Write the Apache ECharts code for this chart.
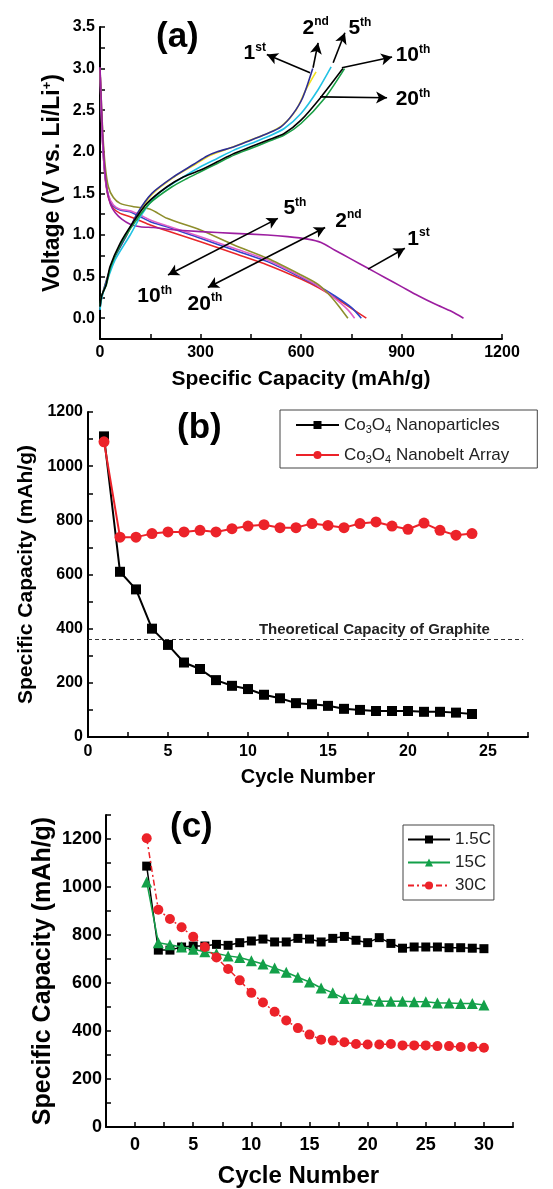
<!DOCTYPE html>
<html><head><meta charset="utf-8">
<script src="https://cdn.jsdelivr.net/npm/echarts@6.0.0/dist/echarts.min.js"></script>
<style>html,body{margin:0;padding:0;background:#fff;}#c{width:553px;height:1189px;}</style>
</head><body><div id="c"></div>
<script>
// ---------- Panel (a): voltage profiles [capacity mAh/g, voltage V] ----------
const dis1st = [[0,3.02],[3,2.7],[8,2.2],[14,1.8],[22,1.52],[32,1.36],[45,1.27],[65,1.19],[90,1.13],[120,1.1],[160,1.09],[200,1.07],[300,1.04],[400,1.02],[500,1.0],[560,0.98],[620,0.95],[660,0.91],[700,0.82],[750,0.71],[800,0.6],[850,0.49],[900,0.38],[950,0.27],[1000,0.17],[1050,0.08],[1085,0.0]];
const dis2nd = [[0,3.0],[3,2.6],[8,2.1],[15,1.7],[25,1.45],[40,1.32],[60,1.26],[90,1.22],[120,1.17],[150,1.12],[200,1.05],[300,0.92],[400,0.78],[500,0.64],[600,0.47],[650,0.37],[700,0.25],[750,0.12],[795,0.0]];
const dis5th = [[0,3.0],[3,2.6],[8,2.1],[15,1.72],[25,1.47],[40,1.35],[60,1.3],[90,1.28],[120,1.22],[150,1.16],[200,1.1],[300,0.96],[400,0.82],[500,0.68],[600,0.49],[650,0.39],[700,0.27],[750,0.13],[780,0.0]];
const dis10th = [[0,3.0],[3,2.6],[8,2.1],[15,1.72],[25,1.48],[40,1.36],[60,1.31],[90,1.29],[120,1.24],[150,1.18],[200,1.11],[300,0.98],[400,0.84],[500,0.7],[600,0.5],[650,0.39],[700,0.24],[740,0.1],[760,0.0]];
const dis20th = [[0,3.0],[3,2.7],[8,2.25],[15,1.85],[25,1.58],[40,1.45],[60,1.38],[100,1.34],[150,1.31],[200,1.2],[300,1.06],[400,0.88],[500,0.72],[600,0.52],[650,0.41],[680,0.3],[710,0.16],[740,0.0]];
const chg1st = [[0,0.12],[5,0.25],[15,0.4],[40,0.7],[80,1.0],[110,1.25],[155,1.5],[220,1.7],[280,1.85],[320,1.95],[350,2.0],[400,2.06],[450,2.14],[500,2.22],[540,2.3],[575,2.45],[605,2.65],[635,3.0]];
const chg2nd = [[0,0.12],[5,0.25],[15,0.4],[40,0.7],[80,1.0],[112,1.25],[158,1.5],[222,1.7],[285,1.85],[325,1.95],[370,2.02],[410,2.08],[455,2.15],[505,2.23],[545,2.32],[585,2.5],[615,2.75],[645,2.96]];
const chg5th = [[0,0.1],[5,0.24],[17,0.4],[45,0.7],[90,1.0],[125,1.25],[175,1.5],[250,1.7],[300,1.82],[350,1.92],[400,2.02],[450,2.1],[500,2.18],[550,2.28],[600,2.46],[650,2.74],[690,3.02]];
const chg10th = [[0,0.14],[5,0.27],[18,0.4],[30,0.62],[60,0.9],[100,1.16],[140,1.38],[200,1.58],[250,1.7],[300,1.78],[350,1.88],[400,1.98],[450,2.06],[500,2.14],[550,2.22],[600,2.38],[660,2.66],[725,3.0]];
const chg20th = [[0,0.14],[5,0.27],[19,0.4],[32,0.62],[63,0.9],[105,1.16],[148,1.38],[215,1.58],[260,1.68],[300,1.76],[350,1.86],[400,1.96],[450,2.04],[500,2.12],[550,2.2],[600,2.34],[670,2.64],[730,3.0]];
// annotation arrows: [x1,y1,x2,y2, headAtStart]
const arrowsA = [[627,2.95,498,3.17,0],[636,3.01,651,3.31,0],[696,3.07,731,3.43,0],[722,3.01,872,3.14,0],[657,2.66,857,2.65,0],[203,0.52,531,1.20,1],[322,0.37,672,1.09,1],[800,0.59,910,0.84,0]];
// annotation labels: [x, y, number, suffix]
const labelsA = [[427,3.18,'1','st'],[603,3.49,'2','nd'],[740,3.48,'5','th'],[881,3.16,'10','th'],[881,2.63,'20','th'],[546,1.32,'5','th'],[701,1.17,'2','nd'],[916,0.95,'1','st'],[110,0.26,'10','th'],[260,0.17,'20','th']];

// ---------- Panel (b) ----------
const cyclesB = [1,2,3,4,5,6,7,8,9,10,11,12,13,14,15,16,17,18,19,20,21,22,23,24];
const nanoparticles = [1110,610,545,400,340,275,251,210,189,177,156,143,125,121,115,104,100,96,96,96,93,93,90,85];
const nanobelt = [1090,738,738,751,757,757,763,757,769,779,784,773,773,788,781,773,788,794,779,767,790,763,745,751];
const graphiteCap = 360;

// ---------- Panel (c) ----------
const cyclesC = [1,2,3,4,5,6,7,8,9,10,11,12,13,14,15,16,17,18,19,20,21,22,23,24,25,26,27,28,29,30];
const rate1_5C = [1087,737,737,750,754,754,761,757,768,775,783,771,771,786,783,771,786,794,778,768,789,765,745,750,750,750,747,747,745,743];
const rate15C = [1021,768,759,750,741,730,723,713,706,693,679,662,645,624,604,579,559,535,535,529,524,524,524,522,522,517,517,515,515,508];
const rate30C = [1203,905,867,832,793,750,706,658,611,559,519,480,444,412,385,364,360,353,346,344,344,346,340,340,340,337,337,333,334,330];

const FF = "'Liberation Sans', Arial, sans-serif";
const RED = '#ec2229', GREEN = '#13a049';

function pair(xs, ys){ return ys.map((v,i)=>[xs[i], v]); }

function axis(gi, min, max, interval, step, dec, name, nameGap, nameSize, margin, labelSize, extra){
  return Object.assign({
    type:'value', gridIndex: gi, min, max, interval,
    name, nameLocation:'middle', nameGap, nameMoveOverlap:false,
    nameTextStyle:{fontFamily:FF, fontWeight:'bold', fontSize:nameSize, color:'#000'},
    axisLine:{show:true, onZero:false, lineStyle:{color:'#000', width:2}},
    axisTick:{show:true, inside:true, length:5, interval:0, lineStyle:{color:'#000', width:1.5}},
    splitLine:{show:false},
    axisLabel:{interval:0, hideOverlap:false, fontFamily:FF, fontWeight:'bold', fontSize:labelSize, color:'#000', margin,
      formatter: v => { const r = v/step; return Math.abs(r-Math.round(r))<1e-6 ? v.toFixed(dec) : ''; }}
  }, extra||{});
}

const lineA = (name, data, color) => ({
  name, type:'line', xAxisIndex:0, yAxisIndex:0, data, showSymbol:false, smooth:0.25,
  lineStyle:{color, width:1.6}, itemStyle:{color}, silent:true, z:2
});

const sup = {fontFamily:FF, fontWeight:'bold', fontSize:12, color:'#000', verticalAlign:'top', lineHeight:12};
const num = {fontFamily:FF, fontWeight:'bold', fontSize:21, color:'#000', lineHeight:24};
const titleStyle = {fontFamily:FF, fontWeight:'bold', fontSize:35, color:'#000'};

const option = {
  animation:false,
  backgroundColor:'#fff',
  title:[
    {text:'(a)', left:156, top:20, padding:0, textStyle:titleStyle},
    {text:'(b)', left:177, top:411, padding:0, textStyle:titleStyle},
    {text:'(c)', left:170, top:810, padding:0, textStyle:titleStyle}
  ],
  grid:[
    {left:100, right:51, top:27, height:312},
    {left:88, right:25, top:412, height:325},
    {left:106, right:40, top:815, height:317}
  ],
  legend:[
    {data:['Co3O4 Nanoparticles','Co3O4 Nanobelt Array'], orient:'vertical', left:280, top:410,
     padding:[5,28,3,15], itemGap:10, itemWidth:43, itemHeight:10, borderColor:'#444', borderWidth:1,
     textStyle:{fontFamily:FF, fontSize:17, color:'#222', lineHeight:20,
       rich:{sub:{fontFamily:FF, fontSize:11, color:'#222', verticalAlign:'bottom', lineHeight:11}}},
     formatter: n => n.replace('Co3O4','Co{sub|3}O{sub|4}')},
    {data:['1.5C','15C','30C'], orient:'vertical', left:403, top:825,
     padding:[6,3,6,4], itemGap:6, itemWidth:42, itemHeight:10, borderColor:'#444', borderWidth:1,
     textStyle:{fontFamily:FF, fontSize:17, color:'#222'}}
  ],
  xAxis:[
    axis(0, 0, 1200, 150, 300, 0, 'Specific Capacity (mAh/g)', 30, 21, 6, 16),
    axis(1, 0, 27.5, 2.5, 5, 0, 'Cycle Number', 30, 20, 7, 16),
    axis(2, -2.5, 32.5, 2.5, 5, 0, 'Cycle Number', 37, 24, 9, 18,
      {nameTextStyle:{fontFamily:FF, fontWeight:'bold', fontSize:24, color:'#000', padding:[0,22,0,0]}})
  ],
  yAxis:[
    axis(0, -0.25, 3.5, 0.25, 0.5, 1, '{t|Voltage (V vs. Li/Li}{s|+}{t|)}', 36, 23, 5, 16,
      {nameTextStyle:{rich:{t:{fontFamily:FF, fontWeight:'bold', fontSize:23, color:'#000'}, s:{fontFamily:FF, fontWeight:'bold', fontSize:13, color:'#000', verticalAlign:'top'}}}}),
    axis(1, 0, 1200, 100, 200, 0, 'Specific Capacity (mAh/g)', 51, 21, 5, 16),
    axis(2, 0, 1300, 100, 200, 0, 'Specific Capacity (mAh/g)', 50, 25, 4, 18)
  ],
  series:[
    lineA('dis2nd', dis2nd, '#e8262a'),
    lineA('dis5th', dis5th, '#2f44c9'),
    lineA('dis10th', dis10th, '#e060c8'),
    lineA('dis20th', dis20th, '#8e8e2c'),
    lineA('dis1st', dis1st, '#9c1ea0'),
    lineA('chg2nd', chg2nd, '#f2e020'),
    lineA('chg1st', chg1st, '#2e2e96'),
    lineA('chg5th', chg5th, '#22c2e4'),
    lineA('chg20th', chg20th, '#1aa046'),
    lineA('chg10th', chg10th, '#000000'),
    {name:'annotA', type:'line', xAxisIndex:0, yAxisIndex:0, data:[], silent:true, z:5,
     markLine:{silent:true, animation:false, symbolSize:[9,11], lineStyle:{color:'#000', width:1.6, type:'solid'}, label:{show:false},
       data: arrowsA.map(a => [{coord:[a[0],a[1]], symbol: a[4] ? 'arrow' : 'none'}, {coord:[a[2],a[3]], symbol:'arrow'}])},
     markPoint:{silent:true, animation:false, symbol:'circle', symbolSize:1, itemStyle:{color:'rgba(0,0,0,0)'},
       data: labelsA.map(l => ({coord:[l[0],l[1]], label:{show:true, position:'right', distance:0,
         formatter:'{n|'+l[2]+'}{s|'+l[3]+'}', rich:{n:num, s:sup}}}))}
    },
    {name:'Co3O4 Nanoparticles', type:'line', xAxisIndex:1, yAxisIndex:1, data:pair(cyclesB, nanoparticles),
     symbol:'rect', symbolSize:10, showAllSymbol:true, lineStyle:{color:'#000', width:2}, itemStyle:{color:'#000'}, z:3,
     markLine:{silent:true, symbol:'none', animation:false, lineStyle:{color:'#333', width:1, type:[4,3]}, label:{show:false},
       data:[[{coord:[0,graphiteCap]},{coord:[27.2,graphiteCap]}]]},
     markPoint:{silent:true, animation:false, symbol:'circle', symbolSize:1, itemStyle:{color:'rgba(0,0,0,0)'},
       data:[{coord:[17.9,graphiteCap], label:{show:true, position:'top', distance:2, formatter:'Theoretical Capacity of Graphite',
         fontFamily:FF, fontWeight:'bold', fontSize:15, color:'#222'}}]}
    },
    {name:'Co3O4 Nanobelt Array', type:'line', xAxisIndex:1, yAxisIndex:1, data:pair(cyclesB, nanobelt),
     symbol:'circle', symbolSize:11, showAllSymbol:true, lineStyle:{color:RED, width:2}, itemStyle:{color:RED}, z:4},
    {name:'1.5C', type:'line', xAxisIndex:2, yAxisIndex:2, data:pair(cyclesC, rate1_5C),
     symbol:'rect', symbolSize:9, showAllSymbol:true, lineStyle:{color:'#000', width:1.5}, itemStyle:{color:'#000'}, z:3},
    {name:'15C', type:'line', xAxisIndex:2, yAxisIndex:2, data:pair(cyclesC, rate15C),
     symbol:'triangle', symbolSize:11, showAllSymbol:true, lineStyle:{color:GREEN, width:1.5}, itemStyle:{color:GREEN}, z:4},
    {name:'30C', type:'line', xAxisIndex:2, yAxisIndex:2, data:pair(cyclesC, rate30C),
     symbol:'circle', symbolSize:10, showAllSymbol:true, lineStyle:{color:RED, width:1.5, type:[6,3,2,3]}, itemStyle:{color:RED}, z:5}
  ]
};
const chart = echarts.init(document.getElementById('c'), null, {renderer:'canvas'});
chart.setOption(option);
</script></body></html>
